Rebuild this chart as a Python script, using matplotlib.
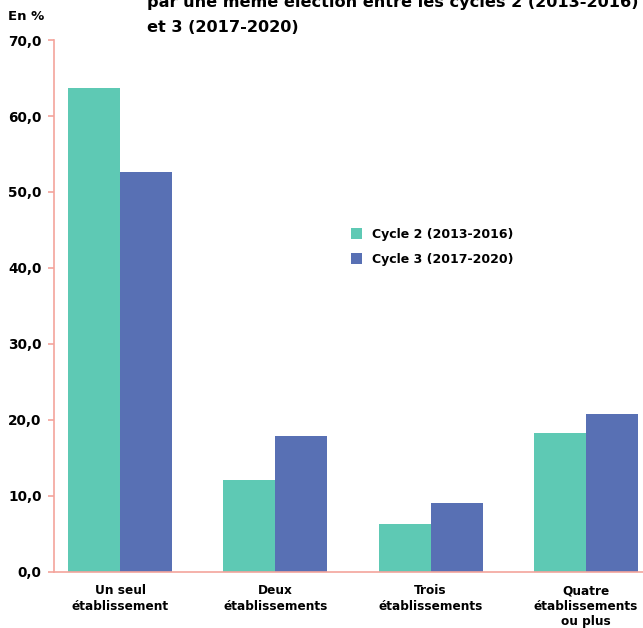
import matplotlib
matplotlib.use("Agg")
import matplotlib.pyplot as plt
import numpy as np

categories = ["Un seul\nétablissement", "Deux\nétablissements",
              "Trois\nétablissements", "Quatre\nétablissements\nou plus"]
series_names = ["Cycle 2 (2013-2016)", "Cycle 3 (2017-2020)"]
cycle2 = [63.7, 12.1, 6.3, 18.3]
cycle3 = [52.6, 17.9, 9.1, 20.8]
yticks = [0, 10, 20, 30, 40, 50, 60, 70]
ytick_labels = ["0,0", "10,0", "20,0", "30,0", "40,0", "50,0", "60,0", "70,0"]

green = "#5ec9b4"
blue = "#5870b4"
axis_col = "#f4a49c"
font = ["DejaVu Sans"]

fig = plt.figure(figsize=(6.43, 6.28), dpi=100)
ax = fig.add_axes([54 / 643, 0.0892, 1 - 54 / 643, 0.8471])

x = np.arange(len(categories))
w = 0.335
ax.bar(x - w / 2, cycle2, width=w, color=green, label=series_names[0], zorder=2)
ax.bar(x + w / 2, cycle3, width=w, color=blue, label=series_names[1], zorder=2)

ax.set_xlim(-0.425, 3.367)
ax.set_ylim(0, 70)
ax.set_yticks(yticks)
ax.set_yticklabels(ytick_labels, fontfamily=font, fontweight="bold", fontsize=9.8)
ax.set_xticks(x)
ax.set_xticklabels(categories, fontfamily=font, fontweight="bold", fontsize=8.7,
                   linespacing=1.25)

for side in ["top", "right"]:
    ax.spines[side].set_visible(False)
for side in ["left", "bottom"]:
    ax.spines[side].set_color(axis_col)
    ax.spines[side].set_linewidth(1.2)
ax.tick_params(axis="y", length=4.5, color=axis_col, width=1.2, pad=4.5)
ax.tick_params(axis="x", length=0, pad=9)

leg = ax.legend(loc="upper left", bbox_to_anchor=(0.485, 0.668), frameon=False,
                handlelength=0.9, handleheight=0.9, handletextpad=0.75,
                labelspacing=0.95, prop={"family": font, "weight": "bold", "size": 9})

fig.text(8 / 643, 1 - 17 / 628, "En %", fontfamily=font, fontweight="bold",
         fontsize=9.5, va="center", ha="left")
fig.text(147 / 643, 1 - 2 / 628, "par une même élection entre les cycles 2 (2013-2016)",
         fontfamily=font, fontweight="bold", fontsize=11.6, va="center", ha="left")
fig.text(147 / 643, 1 - 28 / 628, "et 3 (2017-2020)",
         fontfamily=font, fontweight="bold", fontsize=11.6, va="center", ha="left")

fig.savefig("out.png", dpi=100)
